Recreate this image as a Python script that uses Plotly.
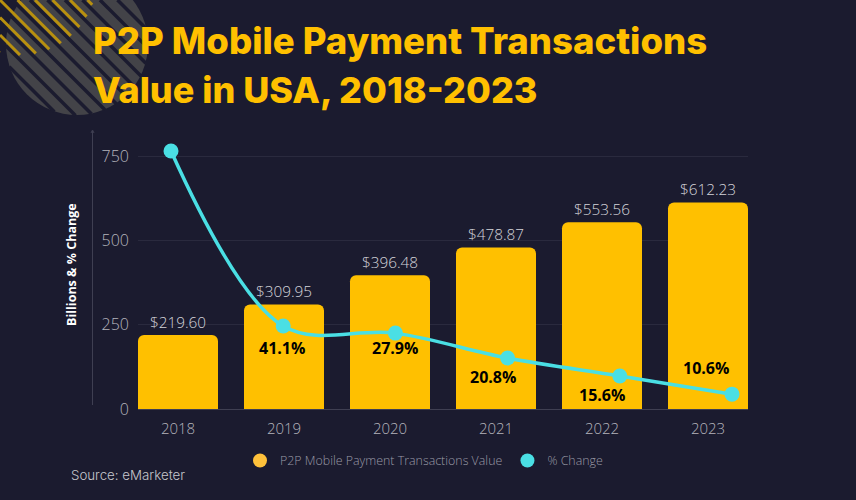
import math
import plotly.graph_objects as go

W, H = 856, 500
PLOT_L, PLOT_R, PLOT_T, PLOT_B = 138, 748, 130, 409

# data
years = ["2018", "2019", "2020", "2021", "2022", "2023"]
payment_value = [219.60, 309.95, 396.48, 478.87, 553.56, 612.23]
value_labels = ["$219.60", "$309.95", "$396.48", "$478.87", "$553.56", "$612.23"]
line_years = [2018, 2019, 2020, 2021, 2022, 2023]
line_height = [765, 246, 225, 151, 98, 44]
pct_labels = ["80.0%", "41.1%", "27.9%", "20.8%", "15.6%", "10.6%"]
y_ticks = [0, 250, 500, 750]

BG = "#1b1b2f"
GOLD = "#ffc000"
CYAN = "#4adfe4"
TICK = "#b4b4bc"


def px(x):
    return (x - PLOT_L) / (PLOT_R - PLOT_L)


def py(y):
    return (PLOT_B - y) / (PLOT_B - PLOT_T)


def stripe(c, cx, cy, r, color, width):
    # 45 degree line y = x - c clipped to a circle (and the page)
    d = (cx - cy - c) / math.sqrt(2)
    if abs(d) >= r:
        return None
    half = math.sqrt(r * r - d * d) / math.sqrt(2)
    mx = (cx + cy + c) / 2
    my = mx - c
    x0, y0, x1, y1 = mx - half, my - half, mx + half, my + half
    if y0 < 0:
        x0, y0 = c, 0
    if x0 < 0:
        x0, y0 = 0, -c
    return dict(type="line", xref="paper", yref="paper", x0=px(x0), y0=py(y0), x1=px(x1), y1=py(y1),
                line=dict(color=color, width=width), layer="below")


shapes = [
    dict(type="circle", xref="paper", yref="paper", x0=px(6), x1=px(148), y0=py(115), y1=py(-27),
         fillcolor="#434348", line_width=0, layer="below"),
]
for k in range(-8, 8):
    s = stripe(17.5 * k - 5, 77, 44, 71.5, BG, 3.5)
    if s:
        shapes.append(s)
for k in range(-4, 6):
    s = stripe(17.5 * k, 20, -22, 77, "#b8900f", 3)
    if s:
        shapes.append(s)

# y axis line with a small arrow head
shapes += [
    dict(type="line", xref="paper", yref="paper", x0=px(92.5), x1=px(92.5), y0=py(405), y1=py(131),
         line=dict(color="#3f3f52", width=1)),
    dict(type="path", xref="paper", yref="paper",
         path=f"M {px(91)} {py(133)} L {px(92.5)} {py(130)} L {px(94)} {py(133)}",
         line=dict(color="#3f3f52", width=1)),
]

fig = go.Figure()
fig.add_trace(go.Bar(
    x=years, y=payment_value, width=80 / 106, marker=dict(color=GOLD, line_width=0, cornerradius=6),
    text=value_labels, textposition="outside", cliponaxis=False, showlegend=False,
    textfont=dict(family="Open Sans", size=15.3, color="#d4d4da", weight=300),
))
fig.add_trace(go.Scatter(
    x=line_years, y=line_height, xaxis="x2", mode="lines+markers", showlegend=False,
    line=dict(color=CYAN, width=3.5, shape="spline", smoothing=1.0),
    marker=dict(color=CYAN, size=15), cliponaxis=False,
))
# legend entries with round keys
fig.add_trace(go.Scatter(x=[None], y=[None], mode="markers", name="P2P Mobile Payment Transactions Value",
                         marker=dict(color="#ffc13b", size=14, symbol="circle")))
fig.add_trace(go.Scatter(x=[None], y=[None], mode="markers", name="% Change",
                         marker=dict(color=CYAN, size=14, symbol="circle")))

# % labels sit where the original placed them, on the bars
label_spots = [(-0.06, 830, "#ffffff"), (0.98, 180, "#000000"), (2.05, 180, "#000000"),
               (2.97, 95, "#000000"), (4, 43, "#000000"), (4.98, 121, "#000000")]
annotations = []
for text, (ax, ay, color) in zip(pct_labels, label_spots):
    annotations.append(dict(x=ax, y=ay, xref="x", yref="y", text=text, showarrow=False,
                            font=dict(family="Open Sans", size=16, color=color, weight=700)))
annotations.append(dict(x=px(71), y=py(265), xref="paper", yref="paper", text="Billions & % Change",
                        textangle=-90, showarrow=False, xanchor="center", yanchor="middle",
                        font=dict(family="Open Sans", size=12.5, color="#ffffff", weight=700)))
annotations.append(dict(x=px(69), y=py(475), xref="paper", yref="paper", text="Source: eMarketer",
                        xanchor="left", yanchor="middle", showarrow=False,
                        font=dict(family="Inter", size=13.3, color="#c6c6cc", weight=300)))
annotations.append(dict(x=px(91), y=py(41), xref="paper", yref="paper", yanchor="middle", xanchor="left",
                        text="P2P Mobile Payment Transactions", showarrow=False,
                        font=dict(family="Inter", size=36.5, color=GOLD, weight=800)))
annotations.append(dict(x=px(91), y=py(90), xref="paper", yref="paper", yanchor="middle", xanchor="left",
                        text="Value in USA, 2018-2023", showarrow=False,
                        font=dict(family="Inter", size=36, color=GOLD, weight=800)))

fig.update_layout(
    width=W, height=H, autosize=False,
    margin=dict(l=PLOT_L, r=W - PLOT_R, t=PLOT_T, b=H - PLOT_B, autoexpand=False),
    paper_bgcolor=BG, plot_bgcolor=BG,
    xaxis=dict(type="category", range=[-40 / 106, 5 + 40 / 106], showgrid=False, showline=True,
               linecolor="#3f3f52", linewidth=1, ticks="", ticklabelstandoff=6,
               tickfont=dict(family="Open Sans", size=15, color=TICK, weight=300)),
    xaxis2=dict(overlaying="x", range=[2018 - 33 / 112.2, 2023 + 16 / 112.2], visible=False),
    yaxis=dict(range=[0, (PLOT_B - PLOT_T) / 0.3373], tickvals=y_ticks, showgrid=True, gridcolor="#2a2a3e",
               gridwidth=1, zeroline=False, ticks="", ticklabelstandoff=8,
               tickfont=dict(family="Open Sans", size=16, color=TICK, weight=300)),
    legend=dict(orientation="h", x=424 / W, xanchor="center", xref="container", y=1 - 461 / H, yanchor="middle",
                yref="container", font=dict(family="Open Sans", size=12.4, color="#9a9aa6", weight=300),
                itemsizing="trace", bgcolor="rgba(0,0,0,0)"),
    shapes=shapes, annotations=annotations,
)

# page margin off so the figure fills the window
fig.write_html("out.html", config=dict(displayModeBar=False),
               post_script="document.body.style.margin='0';document.body.style.background='#1b1b2f';")
